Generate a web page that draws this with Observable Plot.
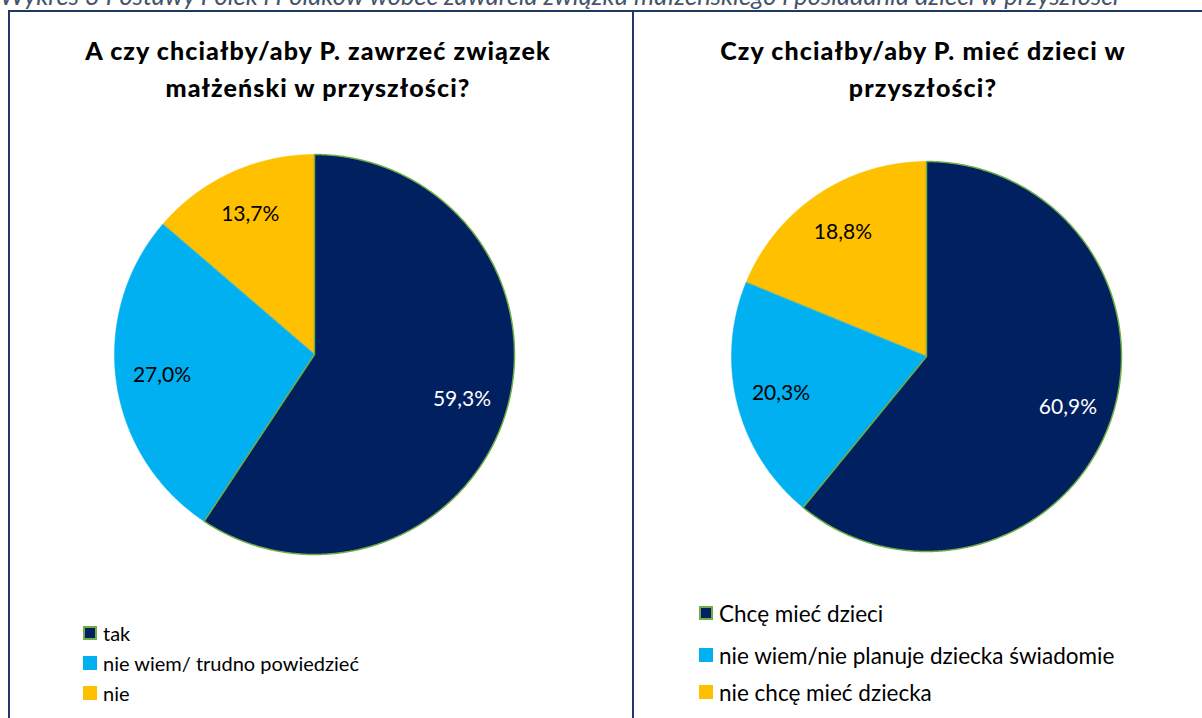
<!DOCTYPE html>
<html>
<head>
<meta charset="utf-8">
<script src="https://cdn.jsdelivr.net/npm/d3@7"></script>
<script src="https://cdn.jsdelivr.net/npm/@observablehq/plot@0.6"></script>
<style>
  html, body { margin: 0; padding: 0; background: #fff; overflow: hidden; }
  #page { position: relative; width: 1202px; height: 718px; overflow: hidden; font-family: Lato, "Open Sans", sans-serif; }
  .caption { position: absolute; left: 0px; top: -20px; font-style: italic; font-size: 25.5px; line-height: 30px; color: #44546A; white-space: nowrap; }
  .frame { position: absolute; left: 8px; top: 10px; width: 1300px; height: 800px; border: 2px solid #1F3864; box-sizing: border-box; }
  .divider { position: absolute; left: 632px; top: 10px; width: 2px; height: 720px; background: #1F3864; }
  .title { position: absolute; font-weight: 900; font-size: 25px; letter-spacing: 1.1px; line-height: 37px; text-align: center; color: #000; white-space: nowrap; }
  .pie { position: absolute; }
  .legend { position: absolute; color: #000; }
  .legend .row { position: absolute; left: 0; white-space: nowrap; display: flex; align-items: center; }
  .legend .sw { flex: none; width: 14px; height: 14px; box-sizing: border-box; margin-right: 6px; }
</style>
</head>
<body>
<div id="page">
  <div class="caption" id="caption"></div>
  <div class="frame"></div>
  <div class="divider"></div>
</div>
<script>
// ---- data ----
const captionText = "Wykres 3 Postawy Polek i Polaków wobec zawarcia związku małżeńskiego i posiadania dzieci w przyszłości";
const title1 = ["A czy chciałby/aby P. zawrzeć związek", "małżeński w przyszłości?"];
const title2 = ["Czy chciałby/aby P. mieć dzieci w", "przyszłości?"];
const categories1 = ["tak", "nie wiem/ trudno powiedzieć", "nie"];
const values1 = [59.3, 27.0, 13.7];
const labels1 = ["59,3%", "27,0%", "13,7%"];
const categories2 = ["Chcę mieć dzieci", "nie wiem/nie planuje dziecka świadomie", "nie chcę mieć dziecka"];
const values2 = [60.9, 20.3, 18.8];
const labels2 = ["60,9%", "20,3%", "18,8%"];
const sliceColors = ["#002060", "#00B0F0", "#FFC000"];
const labelColors = ["#FFFFFF", "#000000", "#000000"];
const outlineColors = ["#70AD47", "none", "none"];

const page = document.getElementById("page");
document.getElementById("caption").textContent = captionText;

function addTitle(lines, cx, top) {
  const d = document.createElement("div");
  d.className = "title";
  d.style.left = (cx - 300) + "px";
  d.style.width = "600px";
  d.style.top = top + "px";
  d.innerHTML = lines.join("<br>");
  page.appendChild(d);
}

function pieChart(values, labels, R, labelR) {
  const pie = d3.pie().sort(null).value(v => v)(values);
  const marks = [];
  const order = pie.map((p, i) => i).reverse();
  for (const i of order) {
    const p = pie[i];
    const pts = [{x: 0, y: 0}];
    const n = Math.max(2, Math.ceil((p.endAngle - p.startAngle) / 0.005));
    for (let k = 0; k <= n; k++) {
      const a = p.startAngle + (p.endAngle - p.startAngle) * k / n;
      pts.push({x: Math.sin(a), y: Math.cos(a)});
    }
    marks.push(Plot.line(pts, {
      x: "x", y: "y", curve: "linear-closed",
      fill: sliceColors[i],
      stroke: outlineColors[i] === "none" ? sliceColors[i] : outlineColors[i],
      strokeWidth: outlineColors[i] === "none" ? 0.5 : 1.5
    }));
  }
  const lab = pie.map((p, i) => {
    const a = (p.startAngle + p.endAngle) / 2;
    return {x: labelR * Math.sin(a), y: labelR * Math.cos(a), text: labels[i], color: labelColors[i]};
  });
  marks.push(Plot.text(lab, {x: "x", y: "y", text: "text", fill: d => d.color, fontSize: 21, fontFamily: "Lato"}));
  const m = 2;
  return Plot.plot({
    width: 2 * R + 2 * m, height: 2 * R + 2 * m,
    margin: m,
    x: {domain: [-1, 1], axis: null},
    y: {domain: [-1, 1], axis: null},
    color: {type: "identity"},
    style: {background: "transparent", fontFamily: "Lato", overflow: "visible"},
    marks
  });
}

function place(node, cx, cy, R) {
  node.classList.add("pie");
  node.style.left = (cx - R - 2) + "px";
  node.style.top = (cy - R - 2) + "px";
  page.appendChild(node);
}

function addLegend(cats, left, tops, fontSize) {
  const lg = document.createElement("div");
  lg.className = "legend";
  lg.style.left = left + "px";
  lg.style.top = "0px";
  lg.style.fontSize = fontSize + "px";
  cats.forEach((c, i) => {
    const r = document.createElement("div");
    r.className = "row";
    r.style.top = (tops[i] - 14) + "px";
    r.style.height = "28px";
    const sw = document.createElement("span");
    sw.className = "sw";
    sw.style.background = sliceColors[i];
    if (outlineColors[i] !== "none") sw.style.border = "2px solid " + outlineColors[i];
    const t = document.createElement("span");
    t.textContent = c;
    r.appendChild(sw); r.appendChild(t);
    lg.appendChild(r);
  });
  page.appendChild(lg);
}

addTitle(title1, 318, 32);
addTitle(title2, 923, 32);
place(pieChart(values1, labels1, 200, 0.77), 314, 354, 200);
place(pieChart(values2, labels2, 195, 0.77), 926, 356, 195);
addLegend(categories1, 83, [633, 663, 693], 20);
addLegend(categories2, 699, [613, 655, 692], 22.5);
</script>
</body>
</html>
